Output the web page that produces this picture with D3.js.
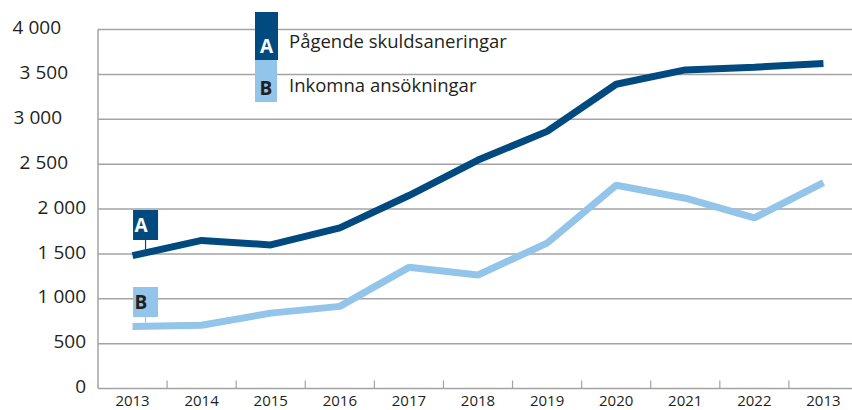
<!DOCTYPE html>
<html>
<head>
<meta charset="utf-8">
<script src="https://cdn.jsdelivr.net/npm/d3@7"></script>
<style>
  body { margin: 0; background: #fff; }
  svg { display: block; font-family: "Open Sans", sans-serif; }
</style>
</head>
<body>
<svg id="chart"></svg>
<script>
// data (last label really says 2013 in the original)
const years = ["2013", "2014", "2015", "2016", "2017", "2018", "2019", "2020", "2021", "2022", "2013"];
const pagende = [1480, 1650, 1600, 1790, 2150, 2545, 2865, 3390, 3550, 3580, 3620];
const inkomna = [690, 705, 840, 915, 1350, 1265, 1620, 2265, 2120, 1900, 2295];
const yTicks = [0, 500, 1000, 1500, 2000, 2500, 3000, 3500, 4000];
const seriesNames = ["Pågende skuldsaneringar", "Inkomna ansökningar"];
const seriesKeys = ["A", "B"];

const W = 852, H = 410;
const DARK = "#004a80", LIGHT = "#93c4e9", GRID = "#a3a3a3";

const svg = d3.select("#chart").attr("width", W).attr("height", H);

const x = d3.scaleBand()
  .domain(d3.range(years.length))
  .range([98, 858]);

const y = d3.scaleLinear()
  .domain([0, 4000])
  .range([388.5, 29.5]);

// gridlines
svg.append("g")
  .selectAll("line")
  .data(yTicks.filter(d => d > 0))
  .join("line")
  .attr("x1", 98).attr("x2", W)
  .attr("y1", d => y(d)).attr("y2", d => y(d))
  .attr("stroke", GRID)
  .attr("stroke-width", 1.5);

// y labels - the top ones sit a bit further left in the original
const labelRight = v => ({4000: 61, 3500: 68, 3000: 62, 2500: 68}[v] || 86);
svg.append("g")
  .selectAll("text")
  .data(yTicks)
  .join("text")
  .attr("x", d => labelRight(d))
  .attr("y", d => y(d) - 2)
  .attr("dy", "0.35em")
  .attr("text-anchor", "end")
  .attr("font-size", 19)
  .attr("fill", "#231f20")
  .text(d => d3.format(",")(d).replace(",", " "));

// axis lines
svg.append("line")
  .attr("x1", 98).attr("x2", 98)
  .attr("y1", y(4000)).attr("y2", y(0))
  .attr("stroke", GRID).attr("stroke-width", 1.5);
svg.append("line")
  .attr("x1", 98).attr("x2", W)
  .attr("y1", y(0)).attr("y2", y(0))
  .attr("stroke", GRID).attr("stroke-width", 1.5);

// x ticks between categories, pointing up
svg.append("g")
  .selectAll("line")
  .data(d3.range(1, years.length))
  .join("line")
  .attr("x1", d => x(d)).attr("x2", d => x(d))
  .attr("y1", y(0) - 8).attr("y2", y(0))
  .attr("stroke", GRID).attr("stroke-width", 1.2);

svg.append("g")
  .selectAll("text")
  .data(years)
  .join("text")
  .attr("x", (d, i) => x(i) + x.bandwidth() / 2)
  .attr("y", 406)
  .attr("text-anchor", "middle")
  .attr("font-size", 15)
  .attr("fill", "#231f20")
  .text(d => d);

// lines
const line = d3.line()
  .x((d, i) => x(i) + x.bandwidth() / 2)
  .y(d => y(d));

[[inkomna, LIGHT], [pagende, DARK]].forEach(([vals, col]) => {
  svg.append("path")
    .datum(vals)
    .attr("d", line)
    .attr("fill", "none")
    .attr("stroke", col)
    .attr("stroke-width", 7)
    .attr("stroke-linejoin", "bevel");
});

// in-chart markers A / B
const marks = [
  {key: seriesKeys[0], val: pagende[0], top: 210, fill: DARK, ink: "#fff"},
  {key: seriesKeys[1], val: inkomna[0], top: 287, fill: LIGHT, ink: "#231f20"}
];
marks.forEach(m => {
  const cx = x(0) + x.bandwidth() / 2 + 13;
  svg.append("line")
    .attr("x1", cx).attr("x2", cx)
    .attr("y1", m.top + 29).attr("y2", y(m.val) - 4)
    .attr("stroke", m.fill).attr("stroke-width", 1.2);
  svg.append("rect")
    .attr("x", cx - 12.5).attr("y", m.top)
    .attr("width", 25).attr("height", 30)
    .attr("fill", m.fill);
  svg.append("text")
    .attr("x", cx - 11).attr("y", m.top + 22)
    .attr("font-size", 19).attr("font-weight", "bold")
    .attr("fill", m.ink)
    .text(m.key);
});

// legend
const legend = svg.append("g").attr("transform", "translate(255,12)");
legend.append("rect").attr("x", 0).attr("y", 0).attr("width", 23).attr("height", 48).attr("fill", DARK);
legend.append("rect").attr("x", 0).attr("y", 48).attr("width", 22).attr("height", 42).attr("fill", LIGHT);
legend.append("text").attr("x", 11.5).attr("y", 41).attr("text-anchor", "middle")
  .attr("font-size", 19).attr("font-weight", "bold").attr("fill", "#fff").text(seriesKeys[0]);
legend.append("text").attr("x", 11).attr("y", 83).attr("text-anchor", "middle")
  .attr("font-size", 19).attr("font-weight", "bold").attr("fill", "#231f20").text(seriesKeys[1]);
legend.append("text").attr("x", 34).attr("y", 36)
  .attr("font-size", 18.5).attr("fill", "#231f20").text(seriesNames[0]);
legend.append("text").attr("x", 34).attr("y", 80)
  .attr("font-size", 18.5).attr("fill", "#231f20").text(seriesNames[1]);
</script>
</body>
</html>
